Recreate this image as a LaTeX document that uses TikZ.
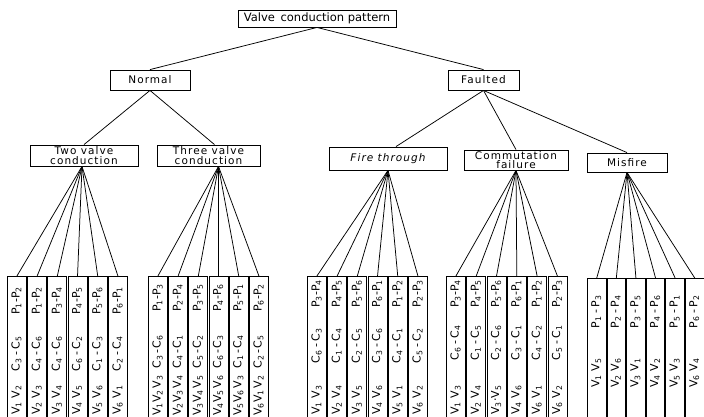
\documentclass[tikz,border=0pt]{standalone}
\usepackage{fontspec}
\setmainfont{DejaVu Sans}
\newfontfamily\boxfont[LetterSpace=10]{DejaVu Sans}
\newfontfamily\leaffont{DejaVu Sans}
\newcommand\sbs[1]{\textsubscript{#1}}
\newcommand\hy{\hspace{2.5pt}-\hspace{2.5pt}}
\newcommand\hz{\hspace{1.5pt}-\hspace{1.5pt}}
\newcommand\cclap[1]{\hbox to 0pt{\hss#1\hss}}
\tikzset{
  every node/.style={inner sep=0pt},
  hbox/.style={draw, line width=0.85pt, rectangle, align=center,
    font=\boxfont\fontsize{10.5}{9.5}\selectfont},
  leafbox/.style={draw, line width=0.85pt, rectangle, minimum height=142pt, anchor=north west},
  leaftext/.style={rotate=90, anchor=west, font=\leaffont\fontsize{11}{12}\selectfont},
  conn/.style={line width=0.75pt},
}
\begin{document}
\begin{tikzpicture}[x=1pt,y=1pt]
\path[use as bounding box, fill=white] (0,0) rectangle (704,-416);

% upper boxes
\node[hbox, font=\fontsize{11.5}{12}\selectfont, minimum width=158pt, minimum height=17pt] (valve) at (317,-18.5) {Valve\hspace{2pt} conduction pattern};
\node[hbox, minimum width=80pt, minimum height=20pt] (normal) at (150,-80) {Normal};
\node[hbox, minimum width=71pt, minimum height=20pt] (faulted) at (483.5,-80) {Faulted};
\node[hbox, minimum width=108pt, minimum height=21pt] (twov) at (84,-155.5) {Two valve\\conduction};
\node[hbox, minimum width=103pt, minimum height=21pt] (threev) at (208.5,-155.5) {Three valve\\conduction};
\node[hbox, minimum width=118pt, minimum height=23pt, font=\boxfont\itshape\fontsize{10.5}{9.5}\selectfont] (fire) at (388,-158.5) {Fire through};
\node[hbox, minimum width=104pt, minimum height=20pt] (comm) at (516,-160) {Commutation\\failure};
\node[hbox, minimum width=80pt, minimum height=19pt] (misfire) at (627,-162.5) {Misfire};

\draw[conn] (valve.south) -- (normal.north);
\draw[conn] (valve.south) -- (faulted.north);
\draw[conn] (normal.south) -- (twov.north);
\draw[conn] (normal.south) -- ([xshift=6pt]threev.north);
\draw[conn] (faulted.south) -- ([xshift=8pt]fire.north);
\draw[conn] (faulted.south) -- (comm.north);
\draw[conn] (faulted.south) -- (misfire.north);

% two valve conduction
\foreach \i/\va/\ca/\pa in {
 1/{V\sbs1 V\sbs2}/{C\sbs3\hy C\sbs5}/{P\sbs1-P\sbs2},
 2/{V\sbs2 V\sbs3}/{C\sbs4\hy C\sbs6}/{P\sbs1-P\sbs2},
 3/{V\sbs3 V\sbs4}/{C\sbs4\hy C\sbs6}/{P\sbs3-P\sbs4},
 4/{V\sbs4 V\sbs5}/{C\sbs6\hy C\sbs2}/{P\sbs4-P\sbs5},
 5/{V\sbs5 V\sbs6}/{C\sbs1\hy C\sbs3}/{P\sbs5-P\sbs6},
 6/{V\sbs6 V\sbs1}/{C\sbs2\hy C\sbs4}/{P\sbs6-P\sbs1}}{
 \node[leafbox, minimum width=19pt] (tw\i) at ({7+(\i-1)*20.2},-276) {};
 \node[leaftext] (twt\i) at ({16.5+(\i-1)*20.2},-415) {\rlap{\va}\hspace{61pt}\cclap{\ca}\hspace{53pt}\cclap{\pa}};
 \draw[conn] ([xshift=-2pt]twov.south) -- (tw\i.north);
}

% three valve conduction
\foreach \i/\va/\ca/\pa in {
 1/{V\sbs1V\sbs2\,V\sbs3}/{C\sbs3\hz C\sbs6}/{P\sbs1-P\sbs3},
 2/{V\sbs2V\sbs3\,V\sbs4}/{C\sbs4\hz C\sbs1}/{P\sbs2-P\sbs4},
 3/{V\sbs3V\sbs4\,V\sbs5}/{C\sbs5\hz C\sbs2}/{P\sbs3-P\sbs5},
 4/{V\sbs4V\sbs5\,V\sbs6}/{C\sbs6\hz C\sbs3}/{P\sbs4-P\sbs6},
 5/{V\sbs5V\sbs6\,V\sbs3}/{C\sbs1\hz C\sbs4}/{P\sbs5-P\sbs1},
 6/{V\sbs6V\sbs1\,V\sbs2}/{C\sbs2\hz C\sbs5}/{P\sbs6-P\sbs2}}{
 \node[leafbox, minimum width=19pt] (th\i) at ({148+(\i-1)*20.2},-276) {};
 \node[leaftext] (tht\i) at ({157.5+(\i-1)*20.2},-416) {\rlap{\va}\hspace{64pt}\cclap{\ca}\hspace{54pt}\cclap{\pa}};
 \draw[conn] ([xshift=10pt]threev.south) -- (th\i.north);
}

% fire through
\foreach \i/\va/\ca/\pa in {
 1/{V\sbs1 V\sbs3}/{C\sbs6\hy C\sbs3}/{P\sbs3-P\sbs4},
 2/{V\sbs2 V\sbs4}/{C\sbs1\hy C\sbs4}/{P\sbs4-P\sbs5},
 3/{V\sbs3 V\sbs5}/{C\sbs2\hy C\sbs5}/{P\sbs5-P\sbs6},
 4/{V\sbs4 V\sbs6}/{C\sbs3\hy C\sbs6}/{P\sbs6-P\sbs1},
 5/{V\sbs5 V\sbs1}/{C\sbs4\hy C\sbs1}/{P\sbs1-P\sbs2},
 6/{V\sbs6 V\sbs2}/{C\sbs5\hy C\sbs2}/{P\sbs2-P\sbs3}}{
 \node[leafbox, minimum width=19pt] (fi\i) at ({307+(\i-1)*20.2},-276) {};
 \node[leaftext] (fit\i) at ({316.5+(\i-1)*20.2},-415) {\rlap{\va}\hspace{69pt}\cclap{\ca}\hspace{52pt}\cclap{\pa}};
 \draw[conn] (fire.south) -- (fi\i.north);
}

% commutation failure
\foreach \i/\va/\ca/\pa in {
 1/{V\sbs1 V\sbs3}/{C\sbs6\hy C\sbs4}/{P\sbs3-P\sbs4},
 2/{V\sbs2 V\sbs4}/{C\sbs1\hy C\sbs5}/{P\sbs4-P\sbs5},
 3/{V\sbs3·V\sbs5}/{C\sbs2\hy C\sbs6}/{P\sbs5-P\sbs6},
 4/{V\sbs4 V\sbs6}/{C\sbs3\hy C\sbs1}/{P\sbs6-P\sbs1},
 5/{V\sbs6 V\sbs1}/{C\sbs4\hy C\sbs2}/{P\sbs1-P\sbs2},
 6/{V\sbs6 V\sbs2}/{C\sbs5\hy C\sbs1}/{P\sbs2-P\sbs3}}{
 \node[leafbox, minimum width=19pt] (co\i) at ({446+(\i-1)*20.3},-276) {};
 \node[leaftext] (cot\i) at ({455.5+(\i-1)*20.3},-415) {\rlap{\va}\hspace{72pt}\cclap{\ca}\hspace{49pt}\cclap{\pa}};
 \draw[conn] (comm.south) -- (co\i.north);
}

% misfire
\foreach \i/\va/\ca/\pa in {
 1/{V\sbs1}/{V\sbs5}/{P\sbs1\hy P\sbs3},
 2/{V\sbs2}/{V\sbs6}/{P\sbs2\hy P\sbs4},
 3/{V\sbs3}/{V\sbs1}/{P\sbs3\hy P\sbs5},
 4/{V\sbs4}/{V\sbs2}/{P\sbs4\hy P\sbs6},
 5/{V\sbs5}/{V\sbs3}/{P\sbs5\hy P\sbs1},
 6/{V\sbs6}/{V\sbs4}/{P\sbs6\hy P\sbs2}}{
 \node[leafbox, minimum width=18.6pt] (mi\i) at ({587+(\i-1)*19.6},-278) {};
 \node[leaftext] (mit\i) at ({596.3+(\i-1)*19.6},-388) {\rlap{\va}\hspace{23pt}\cclap{\ca}\hspace{53pt}\cclap{\pa}};
 \draw[conn] (misfire.south) -- (mi\i.north);
}
\end{tikzpicture}
\end{document}
